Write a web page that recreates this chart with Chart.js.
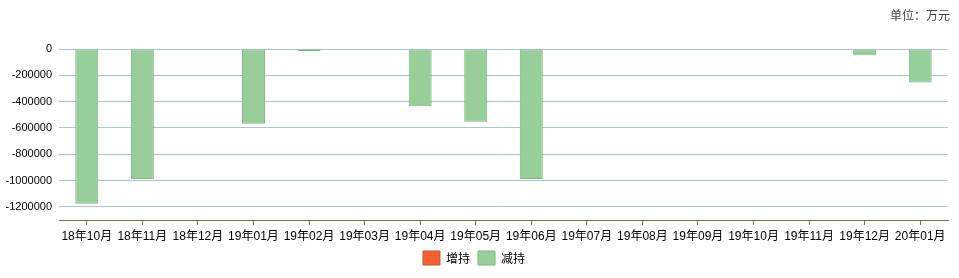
<!DOCTYPE html>
<html>
<head>
<meta charset="utf-8">
<script src="https://cdn.jsdelivr.net/npm/chart.js@4.4.1/dist/chart.umd.min.js"></script>
<style>
  body { margin: 0; background: #fff; }
  #wrap { position: relative; width: 959px; height: 278px; }
  #unit { position: absolute; left: 890px; top: 6px; font: 12px "Noto Sans CJK SC", sans-serif; color: #444; }
</style>
</head>
<body>
<div id="wrap">
  <canvas id="myChart" width="959" height="278"></canvas>
  <div id="unit">单位：万元</div>
</div>
<script>
const months = ['18年10月', '18年11月', '18年12月', '19年01月', '19年02月', '19年03月', '19年04月', '19年05月',
  '19年06月', '19年07月', '19年08月', '19年09月', '19年10月', '19年11月', '19年12月', '20年01月'];

// 增持 - nothing in this period
const increase = [null, null, null, null, null, null, null, null, null, null, null, null, null, null, null, null];

// 减持
const decrease = [-1177000, -988000, null, -568000, -18000, null, -436000, -553000,
  -988000, null, null, null, null, -4000, -48000, -255000];

const yTicks = [0, -200000, -400000, -600000, -800000, -1000000, -1200000];

const labelFont = { family: '"Liberation Sans", "Noto Sans CJK SC", sans-serif', size: 11 };

const data = {
  labels: months,
  datasets: [{
    label: '增持',
    backgroundColor: '#f26135',
    borderColor: '#c9532f',
    borderWidth: 1,
    borderSkipped: false,
    data: increase,
  },
  {
    label: '减持',
    backgroundColor: '#98ce9a',
    borderColor: '#80b483',
    borderWidth: 1,
    borderSkipped: false,
    data: decrease,
  }]
};

const config = {
  type: 'bar',
  data: data,
  options: {
    responsive: false,
    animation: false,
    layout: { padding: { top: 49, right: 11, bottom: 3, left: 0 } },
    categoryPercentage: 0.414,
    barPercentage: 1,
    plugins: {
      tooltip: { enabled: false },
      legend: {
        position: 'bottom',
        labels: {
          boxWidth: 17,
          boxHeight: 14,
          padding: 8,
          color: '#000',
          font: { family: '"Noto Sans CJK SC", sans-serif', size: 12 }
        }
      }
    },
    scales: {
      x: {
        stacked: true,
        afterFit: function(scale) { scale.height = 23; },
        grid: { offset: false, drawOnChartArea: false, drawTicks: true, tickLength: 5, color: '#7d6e45' },
        border: { display: true, color: '#7d6e45' },
        ticks: { color: '#000', padding: 4, maxRotation: 0, autoSkip: false,
          font: { family: '"Liberation Sans", "Noto Sans CJK SC", sans-serif', size: 12 } }
      },
      y: {
        stacked: true,
        min: -1300000,
        max: 0,
        afterFit: function(scale) { scale.width = 59; },
        afterBuildTicks: function(scale) { scale.ticks = yTicks.map(v => ({ value: v })); },
        grid: { drawTicks: false, color: '#a9c6cf' },
        border: { display: false },
        ticks: { color: '#000', padding: 7, font: labelFont, callback: v => String(v) }
      }
    }
  }
};

const myChart = new Chart(document.getElementById('myChart'), config);
</script>
</body>
</html>
